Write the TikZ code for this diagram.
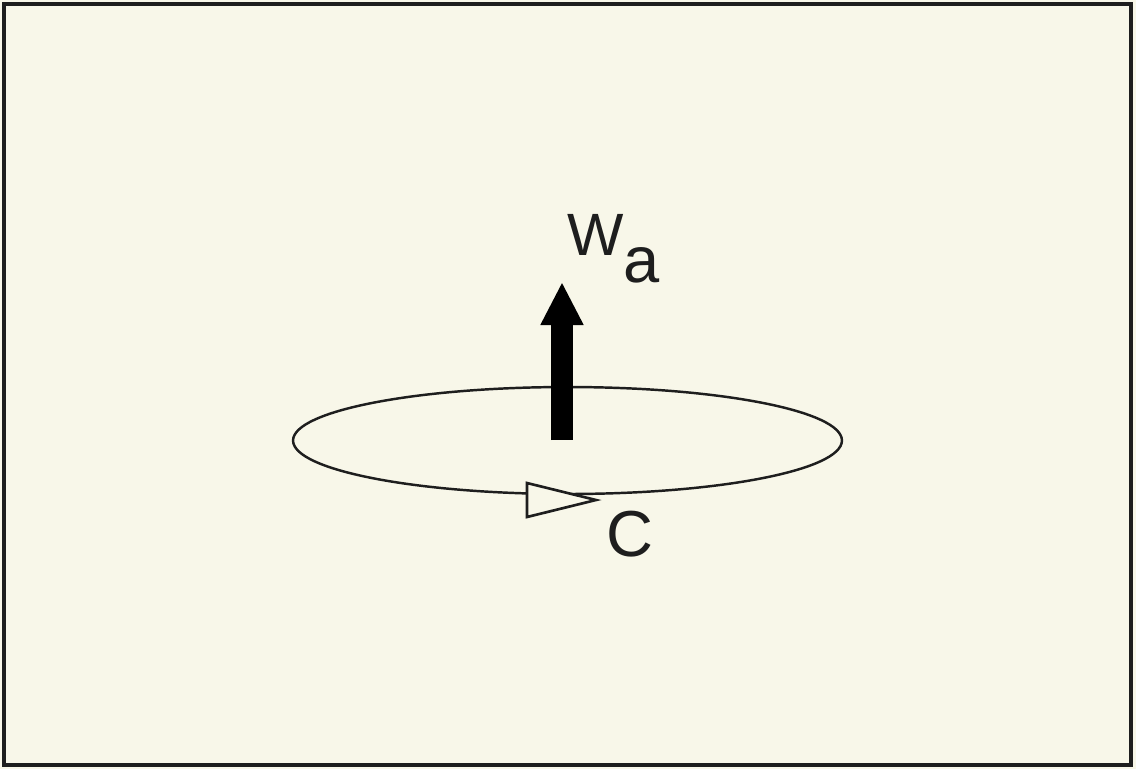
\documentclass[tikz,border=0pt]{standalone}
\usepackage{fontspec}
\setmainfont{Liberation Sans}
\usetikzlibrary{arrows.meta}
\definecolor{paper}{RGB}{248,247,233}
\definecolor{ink}{RGB}{30,30,30}

\begin{document}
\begin{tikzpicture}[x=0.02cm,y=-0.02cm,line width=1.4pt,
  lbl/.style={inner sep=0pt,text=ink}]
  % hoja y marco
  \fill[paper] (0,0) rectangle (1136,769);
  \useasboundingbox (0,0) rectangle (1136,769);
  \draw[ink,line width=1.9pt] (4,4) rectangle (1131,765);
  % curva C
  \draw[ink] (567.5,440.5) ellipse [x radius=5.49cm,y radius=1.07cm];
  \coordinate (base) at (562,440);
  \coordinate (tip) at (562,282);
  \draw[black,line width=0.44cm,-{Triangle[width=0.80cm,length=0.86cm]}] (base) -- (tip);
  % sentido de recorrido
  \filldraw[ink,fill=paper,line width=1.5pt,line join=miter]
    (527,483) -- (596,500) -- (527,517) -- cycle;
  % etiquetas
  \node[lbl,anchor=base west,font=\fontsize{34}{40}\selectfont] (w) at (566,255) {W};
  \node[lbl,anchor=base west,font=\fontsize{37}{40}\selectfont] (a) at (622,282) {a};
  \node[lbl,anchor=base west,font=\fontsize{37}{40}\selectfont] (c) at (605,556) {C};
\end{tikzpicture}
\end{document}
